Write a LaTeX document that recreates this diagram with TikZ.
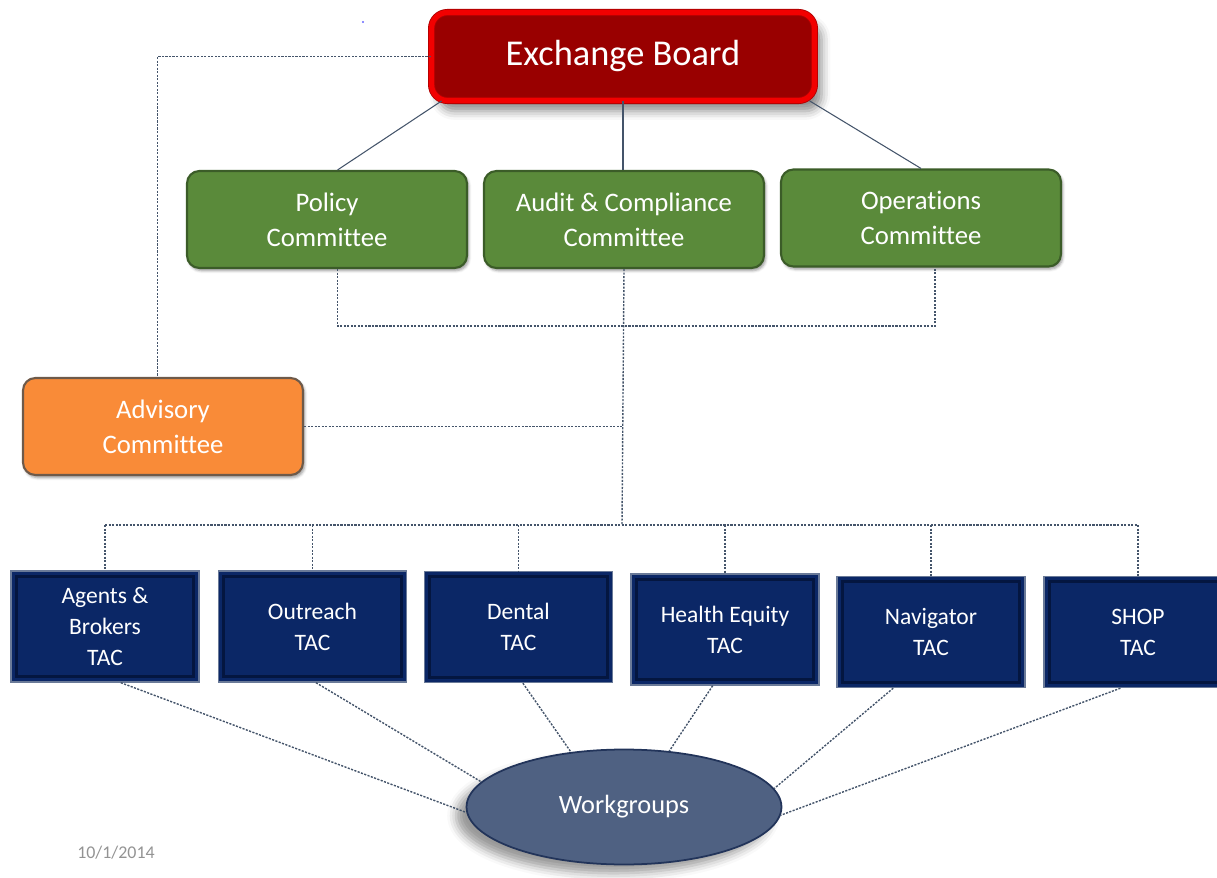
\documentclass[tikz,border=0pt]{standalone}
\usepackage{fontspec}
\setmainfont{Carlito}[Ligatures=NoCommon]
\usetikzlibrary{shapes.geometric,shadows.blur}

\definecolor{boardred}{HTML}{990000}
\definecolor{boardband}{HTML}{F20000}
\definecolor{boardedge}{HTML}{B00000}
\definecolor{cmtgreen}{HTML}{5A8A3A}
\definecolor{cmtedge}{HTML}{3B5C28}
\definecolor{advorange}{HTML}{F98B38}
\definecolor{advedge}{HTML}{6E5A4A}
\definecolor{tacblue}{HTML}{0B2766}
\definecolor{tacedge}{HTML}{6A7A98}
\definecolor{tacdark}{HTML}{041640}
\definecolor{wgblue}{HTML}{4F6182}
\definecolor{wgedge}{HTML}{22345A}
\definecolor{linkgray}{HTML}{44546A}

\begin{document}
\begin{tikzpicture}[x=0.02cm,y=-0.02cm,
    link/.style={draw=linkgray,line width=0.6pt},
    dotlink/.style={link,line width=0.8pt,dash pattern=on 1.2pt off 0.8pt},
    board/.style={rectangle,rounded corners=9pt,fill=boardred,draw=boardedge,
        double=boardband,double distance=3pt,line width=0.5pt,
        minimum width=7.66cm,minimum height=1.76cm,text=white,
        font=\fontsize{20.7}{24}\selectfont,
        blur shadow={shadow xshift=4pt,shadow yshift=-6pt,shadow blur radius=5pt,shadow opacity=45}},
    cmt/.style={rectangle,rounded corners=7pt,draw=#1,line width=1.2pt,
        minimum width=5.6cm,minimum height=1.94cm,text=white,align=center,
        font=\fontsize{15.2}{19.8}\selectfont,
        blur shadow={shadow xshift=1pt,shadow yshift=-1.5pt,shadow blur radius=1.5pt,shadow opacity=40}},
    tac/.style={rectangle,fill=tacblue,draw=tacedge,line width=0.8pt,
        minimum width=3.76cm,minimum height=2.22cm,text=white,
        align=center,font=\fontsize{13.4}{17.6}\selectfont,
        path picture={\draw[tacdark,line width=1.6pt]
            ([shift={(3pt,3pt)}]path picture bounding box.south west) rectangle
            ([shift={(-3pt,-3pt)}]path picture bounding box.north east);}},
    wg/.style={ellipse,fill=wgblue,draw=wgedge,line width=1pt,inner sep=0pt,
        minimum width=6.3cm,minimum height=2.3cm,text=white,
        font=\fontsize{15}{18}\selectfont,
        blur shadow={shadow xshift=-6pt,shadow yshift=-5pt,shadow blur radius=5pt,shadow opacity=40}}]
\useasboundingbox (0,0) rectangle (1217,878);

% top level
\node[board] (board) at (623,56.5) {\raisebox{3pt}{Exchange Board}};

% standing committees
\node[cmt=cmtedge,fill=cmtgreen] (policy) at (327,219.5) {Policy\\Committee};
\node[cmt=cmtedge,fill=cmtgreen] (audit)  at (624,219.5) {Audit \& Compliance\\Committee};
\node[cmt=cmtedge,fill=cmtgreen] (ops)    at (921,218)   {Operations\\Committee};
\node[cmt=advedge,fill=advorange] (advisory) at (163,426.5) {Advisory\\Committee};

% technical advisory committees
\node[tac] (agents)   at (105,626.5)  {Agents \&\\Brokers\\TAC};
\node[tac] (outreach) at (312.5,626.5) {Outreach\\TAC};
\node[tac] (dental)   at (518.5,627)  {Dental\\TAC};
\node[tac] (health)   at (725,629.5)  {Health Equity\\TAC};
\node[tac] (nav)      at (931,632)    {Navigator\\TAC};
\node[tac] (shop)     at (1138,632)   {SHOP\\TAC};

\node[wg] (work) at (624,807) {Workgroups};

\coordinate (bus) at (622,525);

% board to committees
\draw[link] ([xshift=6pt]board.south west) -- ([xshift=6pt]policy.north);
\draw[link] (board.south) -- (board.south |- audit.north);
\draw[link] ([xshift=-3pt]board.south east) -- (ops.north);
\draw[dotlink] (board.west) -| ([xshift=-3pt]advisory.north);

% committee bracket and trunk
\draw[dotlink] ([xshift=6pt]policy.south) -- ++(0,57) -| ([xshift=8pt]ops.south);
\draw[dotlink] (audit.south) -- (bus);
\draw[dotlink] (advisory.east) -- (advisory.east -| bus);

% bus down to the TACs
\draw[dotlink] (agents.north |- bus) -- (shop.north |- bus);
\foreach \t in {agents,outreach,dental,health,nav,shop}
    \draw[dotlink] (\t.north |- bus) -- (\t.north);

% TACs to workgroups
\draw[dotlink] ([xshift=9pt]agents.south)    -- (work.182);
\draw[dotlink] ([xshift=2pt]outreach.south)  -- (work.170);
\draw[dotlink] ([xshift=2.5pt]dental.south)  -- (work.134.5);
\draw[dotlink] ([xshift=-7pt]health.south)   -- (work.51);
\draw[dotlink] ([xshift=-21.5pt]nav.south)   -- (work.7.7);
\draw[dotlink] ([xshift=-10pt]shop.south)    -- (work.-3);

\fill[blue!60] (363,22) circle (1.2);
\node[text=gray!85,font=\fontsize{10.2}{12}\selectfont] (date) at (116,853) {10/1/2014};
\end{tikzpicture}
\end{document}
